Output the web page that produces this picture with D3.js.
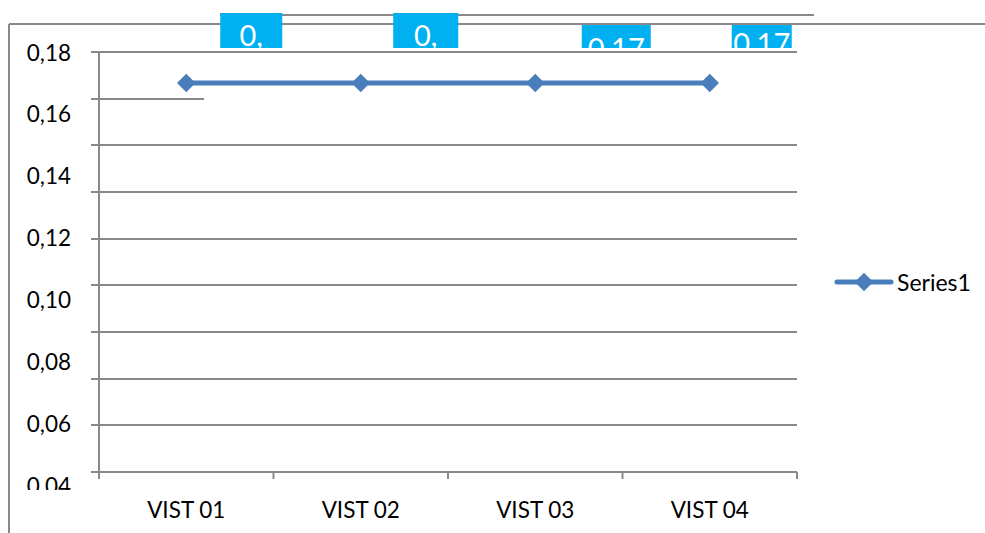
<!DOCTYPE html>
<html>
<head>
<meta charset="utf-8">
<script src="https://cdn.jsdelivr.net/npm/d3@7"></script>
<style>
  html, body { margin: 0; padding: 0; background: #fff; }
  svg { display: block; font-family: Lato, "Open Sans", sans-serif; }
</style>
</head>
<body>
<svg id="chart" width="985" height="533"></svg>
<script>
// Chart data
const categories = ["VIST 01", "VIST 02", "VIST 03", "VIST 04"];
const series1 = [0.17, 0.17, 0.17, 0.17];
const seriesName = "Series1";
const yTickLabels = [0.18, 0.16, 0.14, 0.12, 0.10, 0.08, 0.06, 0.04];
const gridValues = [0.18, 0.16, 0.14, 0.12, 0.10, 0.08, 0.06, 0.04, 0.02, 0.00];

// Layout of the value callouts relative to each point
const calloutLayout = [
  { dx: 65, top: 13, w: 62, base: 46, wrap: true },
  { dx: 65, top: 13, w: 65, base: 46, wrap: true },
  { dx: 81, top: 25, w: 69, base: 59, wrap: false },
  { dx: 52, top: 25, w: 60, base: 54, wrap: false }
];

const W = 985, H = 533;
const plot = { left: 99, right: 797, top: 52, bottom: 472 };
const gridColor = "#898989";
const lineColor = "#4A7EBB";
const calloutColor = "#00B0F0";

const locale = d3.formatLocale({ decimal: ",", thousands: ".", grouping: [3], currency: ["", ""] });
const fmt = locale.format(".2f");

const svg = d3.select("#chart");

// Scales
const x = d3.scaleBand().domain(categories).range([plot.left, plot.right]);
const y = d3.scaleLinear().domain([0.04, 0.18]).range([485, plot.top]);
const yGrid = d3.scaleLinear().domain([0, 0.18]).range([plot.bottom, plot.top]);

// Outer frame lines
const frame = svg.append("g").attr("stroke", gridColor).attr("stroke-width", 2).attr("fill", "none");
frame.append("line").attr("x1", 9).attr("x2", 9).attr("y1", 24).attr("y2", H);
frame.append("line").attr("x1", 9).attr("x2", W).attr("y1", 24).attr("y2", 24);
frame.append("line").attr("x1", 220).attr("x2", 814).attr("y1", 15).attr("y2", 15);

// Horizontal gridlines (with the short tick stub left of the axis)
svg.append("g")
  .selectAll("line")
  .data(gridValues)
  .join("line")
  .attr("x1", plot.left - 8)
  .attr("x2", (d, i) => i === 1 ? 204 : plot.right)
  .attr("y1", d => Math.round(yGrid(d)))
  .attr("y2", d => Math.round(yGrid(d)))
  .attr("stroke", gridColor)
  .attr("stroke-width", 2);

// Vertical axis line
svg.append("line")
  .attr("x1", plot.left).attr("x2", plot.left)
  .attr("y1", plot.top).attr("y2", plot.bottom + 7)
  .attr("stroke", gridColor).attr("stroke-width", 2);

// Category ticks along the bottom axis
const xTicks = categories.map(c => x(c)).concat([plot.right]);
svg.append("g")
  .selectAll("line")
  .data(xTicks)
  .join("line")
  .attr("x1", d => d).attr("x2", d => d)
  .attr("y1", plot.bottom).attr("y2", plot.bottom + 7)
  .attr("stroke", gridColor).attr("stroke-width", 2);

// Y tick labels (bottom one clipped by the axis area)
svg.append("defs").append("clipPath").attr("id", "ylabClip")
  .append("rect").attr("x", 0).attr("y", 0).attr("width", 95).attr("height", 490);
svg.append("g")
  .attr("clip-path", "url(#ylabClip)")
  .selectAll("text")
  .data(yTickLabels)
  .join("text")
  .attr("x", 71)
  .attr("y", d => y(d))
  .attr("dy", "0.38em")
  .attr("text-anchor", "end")
  .attr("font-size", 22.5)
  .attr("fill", "#000")
  .text(d => fmt(d));

// X category labels
svg.append("g")
  .selectAll("text")
  .data(categories)
  .join("text")
  .attr("x", d => x(d) + x.bandwidth() / 2)
  .attr("y", 510)
  .attr("dy", "0.36em")
  .attr("text-anchor", "middle")
  .attr("font-size", 22.5)
  .attr("fill", "#000")
  .text(d => d);

// Series line and markers
const pts = categories.map((c, i) => ({ c, v: series1[i] }));
svg.append("path")
  .datum(pts)
  .attr("fill", "none")
  .attr("stroke", lineColor)
  .attr("stroke-width", 5)
  .attr("d", d3.line().x(d => x(d.c) + x.bandwidth() / 2).y(d => y(d.v)));

const diamond = d3.symbol().type(d3.symbolDiamond2).size(220);
svg.append("g")
  .selectAll("path")
  .data(pts)
  .join("path")
  .attr("transform", d => `translate(${x(d.c) + x.bandwidth() / 2},${y(d.v)})`)
  .attr("d", diamond)
  .attr("fill", lineColor);

// Value callouts above the plot, clipped at the top band
svg.select("defs").append("clipPath").attr("id", "calloutClip")
  .append("rect").attr("x", 0).attr("y", 0).attr("width", W).attr("height", 48);
const callouts = svg.append("g").attr("clip-path", "url(#calloutClip)")
  .selectAll("g")
  .data(pts)
  .join("g");
callouts.append("rect")
  .attr("x", (d, i) => x(d.c) + x.bandwidth() / 2 + calloutLayout[i].dx - calloutLayout[i].w / 2)
  .attr("y", (d, i) => calloutLayout[i].top)
  .attr("width", (d, i) => calloutLayout[i].w)
  .attr("height", 60)
  .attr("fill", calloutColor);
callouts.each(function (d, i) {
  const L = calloutLayout[i];
  const cx = x(d.c) + x.bandwidth() / 2 + L.dx;
  const g = d3.select(this);
  g.append("clipPath").attr("id", "cl" + i)
    .append("rect").attr("x", cx - L.w / 2).attr("y", L.top).attr("width", L.w).attr("height", 60);
  const t = g.append("text")
    .attr("clip-path", `url(#cl${i})`)
    .attr("text-anchor", "middle")
    .attr("font-size", 29)
    .attr("fill", "#fff");
  const s = fmt(d.v);
  if (L.wrap) {
    const cut = s.indexOf(",") + 1;
    t.append("tspan").attr("x", cx).attr("y", L.base).text(s.slice(0, cut));
    t.append("tspan").attr("x", cx).attr("y", L.base + 35).text(s.slice(cut));
  } else {
    t.append("tspan").attr("x", cx).attr("y", L.base).text(s);
  }
});

// Legend
const leg = svg.append("g").attr("transform", "translate(837,282)");
leg.append("line").attr("x1", 0).attr("x2", 54).attr("y1", 0).attr("y2", 0)
  .attr("stroke", lineColor).attr("stroke-width", 5).attr("stroke-linecap", "round");
leg.append("path").attr("transform", "translate(27,0)").attr("d", diamond).attr("fill", lineColor);
leg.append("text").attr("x", 60).attr("y", 1).attr("dy", "0.36em")
  .attr("font-size", 23).attr("fill", "#000").text(seriesName);
</script>
</body>
</html>
